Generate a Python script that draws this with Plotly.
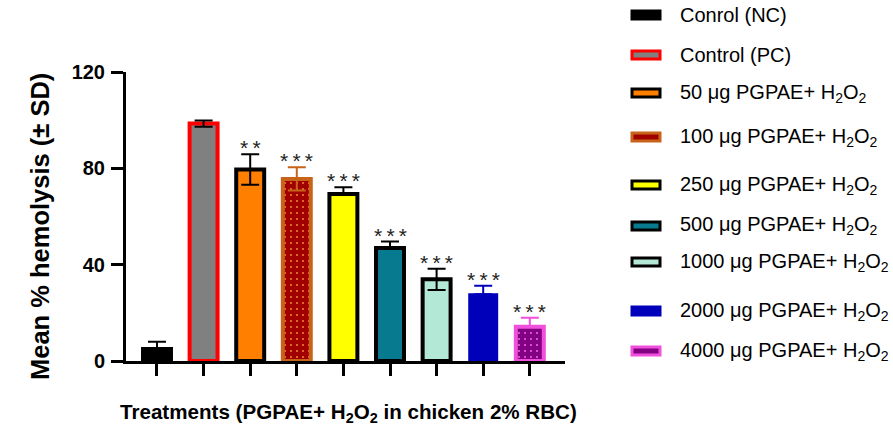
import plotly.graph_objects as go

# ---------------- data ----------------
categories = [
    "Conrol (NC)",
    "Control (PC)",
    "50 μg PGPAE+ H<sub>2</sub>O<sub>2</sub>",
    "100 μg PGPAE+ H<sub>2</sub>O<sub>2</sub>",
    "250 μg PGPAE+ H<sub>2</sub>O<sub>2</sub>",
    "500 μg PGPAE+ H<sub>2</sub>O<sub>2</sub>",
    "1000 μg PGPAE+ H<sub>2</sub>O<sub>2</sub>",
    "2000 μg PGPAE+ H<sub>2</sub>O<sub>2</sub>",
    "4000 μg PGPAE+ H<sub>2</sub>O<sub>2</sub>",
]
mean_hemolysis = [5.0, 98.6, 79.5, 75.6, 69.3, 46.9, 33.9, 27.7, 14.2]
sd_upper = [3.0, 1.3, 6.3, 4.8, 2.8, 2.7, 4.4, 3.5, 3.8]
sd_lower = [0.0, 1.3, 6.3, 4.8, 0.0, 0.0, 4.4, 0.0, 0.0]
significance = ["", "", "**", "***", "***", "***", "***", "***", "***"]
y_ticks = [0, 40, 80, 120]

# ---------------- styles ----------------
fill_colors = ["#000000", "#808080", "#FF8000", "#A00000", "#FFFF00",
               "#077A90", "#B4E8D6", "#0000BB", "#820082"]
edge_colors = ["#000000", "#FF0000", "#000000", "#C8641A", "#000000",
               "#000000", "#000000", "#0000BB", "#F050DC"]
err_colors = ["#000000", "#000000", "#000000", "#C8641A", "#000000",
              "#000000", "#000000", "#0000BB", "#F050DC"]
edge_widths = [4, 4, 4, 4, 4, 4, 4, 2, 4]
patterns = [None, None, None, ("#A00000", "#F08030"), None, None, None, None,
            ("#820082", "#F060E8")]
legend_rows_px = [15, 55, 93, 137, 185, 226, 262, 311, 351]

FONT = "Liberation Sans, Arial, Helvetica, sans-serif"
W, H = 893, 441
L, R, T, B = 126, 328, 72, 80
PW, PH = W - L - R, H - T - B


def pxx(px):
    return (px - L) / PW


def pxy(py):
    return (H - B - py) / PH


fig = go.Figure()
for i, cat in enumerate(categories):
    marker = dict(color=fill_colors[i],
                  line=dict(color=edge_colors[i], width=edge_widths[i]))
    if patterns[i] is not None:
        marker["pattern"] = dict(shape=".", bgcolor=patterns[i][0],
                                 fgcolor=patterns[i][1], size=6,
                                 solidity=0.1, fillmode="replace")
    fig.add_trace(go.Bar(
        x=[i], y=[mean_hemolysis[i]], width=0.6, name=cat,
        marker=marker, showlegend=False,
        error_y=dict(type="data", symmetric=False,
                     array=[sd_upper[i]], arrayminus=[sd_lower[i]],
                     color=err_colors[i], thickness=2, width=9),
    ))
    if significance[i]:
        fig.add_annotation(
            x=i, y=mean_hemolysis[i] + sd_upper[i], xref="x", yref="y",
            text="\u2009".join(significance[i]), showarrow=False,
            yanchor="bottom", yshift=-7,
            font=dict(family=FONT, size=21, color="#222222"))

# manual legend
shapes = []
for i, cat in enumerate(categories):
    cy = legend_rows_px[i]
    shapes.append(dict(type="rect", xref="paper", yref="paper",
                       x0=pxx(632), x1=pxx(660), y0=pxy(cy + 4), y1=pxy(cy - 4),
                       fillcolor=fill_colors[i],
                       line=dict(color=edge_colors[i], width=3)))
    fig.add_annotation(x=pxx(678), y=pxy(cy), xref="paper", yref="paper",
                       text=cat, showarrow=False, xanchor="left",
                       yanchor="middle",
                       font=dict(family=FONT, size=20, color="#000000"))

# axis titles
fig.add_annotation(x=pxx(24), y=pxy(227), xref="paper", yref="paper",
                   text="Mean % hemolysis (± SD)", textangle=-90,
                   showarrow=False,
                   font=dict(family=FONT, size=25.5, color="#000000",
                             weight="bold"))
fig.add_annotation(x=pxx(348), y=pxy(428), xref="paper", yref="paper",
                   text="Treatments (PGPAE+ H<sub>2</sub>O<sub>2</sub> in chicken 2% RBC)",
                   showarrow=False,
                   font=dict(family=FONT, size=20.6, color="#000000",
                             weight="bold"))

fig.update_layout(
    width=W, height=H,
    margin=dict(l=L, r=R, t=T, b=B, pad=0),
    paper_bgcolor="white", plot_bgcolor="white",
    shapes=shapes, bargap=0.4,
    xaxis=dict(range=[-0.665, 8.755], tickmode="array",
               tickvals=list(range(len(categories))), showticklabels=False,
               ticks="outside", ticklen=12, tickwidth=3, tickcolor="black",
               showline=True, linewidth=3, linecolor="black",
               showgrid=False, zeroline=False, fixedrange=True),
    yaxis=dict(range=[0, 120], tickmode="array", tickvals=y_ticks,
               ticks="outside", ticklen=12, tickwidth=3, tickcolor="black",
               showline=True, linewidth=3, linecolor="black",
               showgrid=False, zeroline=False,
               tickfont=dict(family=FONT, size=20, color="black",
                             weight="bold"),
               ticklabelstandoff=2, fixedrange=True),
)

fig.write_html("out.html")
